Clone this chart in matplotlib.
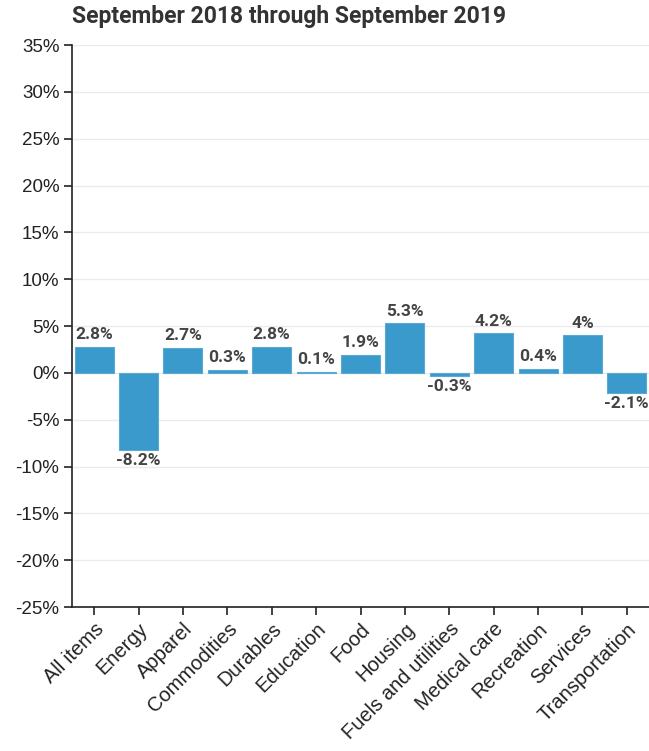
import matplotlib
matplotlib.use("Agg")
import matplotlib.pyplot as plt
import numpy as np

categories = ["All items", "Energy", "Apparel", "Commodities", "Durables", "Education",
              "Food", "Housing", "Fuels and utilities", "Medical care", "Recreation",
              "Services", "Transportation"]
values = [2.8, -8.2, 2.7, 0.3, 2.8, 0.1, 1.9, 5.3, -0.3, 4.2, 0.4, 4.0, -2.1]
yticks = [-25, -20, -15, -10, -5, 0, 5, 10, 15, 20, 25, 30, 35]
title = "September 2018 through September 2019"

fig = plt.figure(figsize=(6.49, 7.51), dpi=100)
ax = fig.add_axes([72/649, 1 - 607/751, (649 - 72)/649, (607 - 45)/751])

x = np.arange(len(categories))
ax.bar(x, values, width=0.88, color="#3a9acb", edgecolor="#5aaad4", linewidth=0.8, zorder=3)
ax.set_xlim(-0.5, len(categories) - 0.5)
ax.set_ylim(-25, 35)
ax.set_yticks(yticks)
ax.set_yticklabels([f"{t}%" for t in yticks], family="Liberation Sans", fontsize=13.5, color="#222222")
ax.set_xticks(x)
ax.set_xticklabels(categories, rotation=45, ha="right", rotation_mode="anchor",
                   family="Liberation Sans", fontsize=14.5, color="#222222")
ax.tick_params(axis="both", length=6, width=1.2, color="#222222", pad=3)
ax.grid(axis="y", color="#ebebeb", linewidth=1, zorder=0)
for s in ["top", "right"]:
    ax.spines[s].set_visible(False)
for s in ["left", "bottom"]:
    ax.spines[s].set_linewidth(1.2)
    ax.spines[s].set_color("#222222")

for xi, v in zip(x, values):
    lab = f"{v:g}%"
    if v >= 0:
        ax.text(xi, v + 0.5, lab, ha="center", va="bottom", fontsize=12.5, fontweight="bold",
                family="Roboto", color="#444444", zorder=4)
    else:
        ax.text(xi, v - 0.4, lab, ha="center", va="top", fontsize=12.5, fontweight="bold",
                family="Roboto", color="#444444", zorder=4)

fig.text(72/649, 1 - 16/751, title, ha="left", va="center", fontsize=16.5, fontweight="bold",
         family="Roboto", color="#333333")

fig.savefig("out.png", dpi=100)
